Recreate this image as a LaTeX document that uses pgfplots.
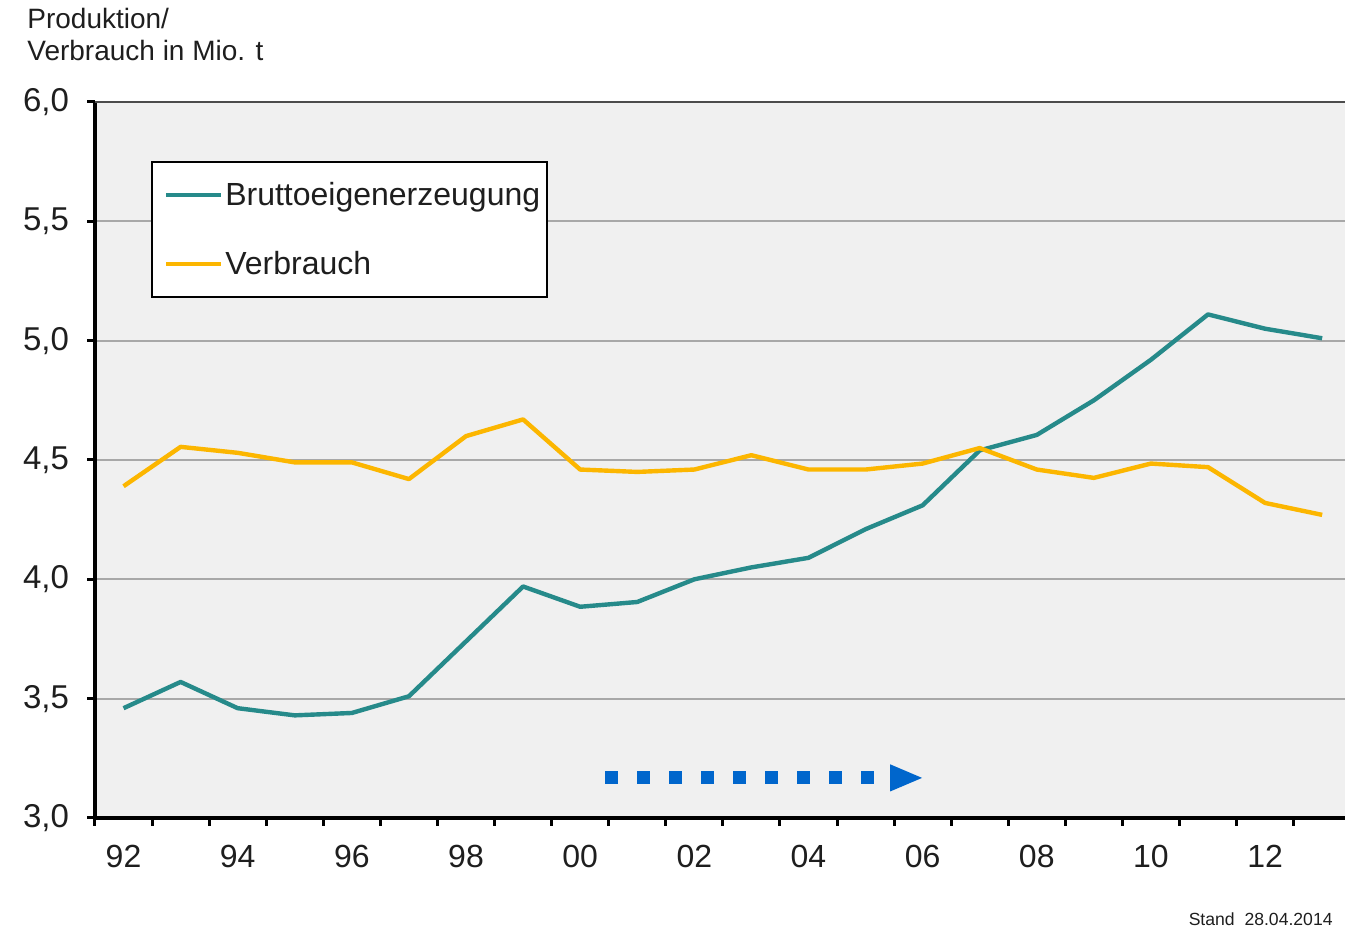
\documentclass[border=0pt]{standalone}
\usepackage{pgfplots}
\pgfplotsset{compat=1.18}
\usepackage{pgfplotstable}
\usepackage{fontspec}
\setmainfont{Liberation Sans}

\definecolor{teal1}{RGB}{38,138,138}
\definecolor{orng}{RGB}{252,182,0}
\definecolor{bg}{RGB}{240,240,240}
\definecolor{gridc}{RGB}{168,168,168}
\definecolor{arrowblue}{RGB}{0,102,204}
\definecolor{txt}{RGB}{30,30,30}

\pgfplotstableread{
year brutto verbrauch
1992 3.46 4.39
1993 3.57 4.555
1994 3.46 4.53
1995 3.43 4.49
1996 3.44 4.49
1997 3.51 4.42
1998 3.74 4.60
1999 3.97 4.67
2000 3.885 4.46
2001 3.905 4.45
2002 4.00 4.46
2003 4.05 4.52
2004 4.09 4.46
2005 4.21 4.46
2006 4.31 4.485
2007 4.54 4.55
2008 4.605 4.46
2009 4.75 4.425
2010 4.92 4.485
2011 5.11 4.47
2012 5.05 4.32
2013 5.01 4.27
}\datatable

\begin{document}
\begin{tikzpicture}
\begin{axis}[
  scale only axis,
  width=625pt, height=358pt,
  xmin=1991.5, xmax=2013.4,
  ymin=3, ymax=6,
  axis x line*=bottom, axis y line*=left,
  axis line style={line width=1.6pt, black, -},
  axis background/.style={fill=bg},
  tick align=outside,
  major tick length=4pt,
  tick style={line width=1.5pt, black},
  xtick={1991.5,1992.5,1993.5,1994.5,1995.5,1996.5,1997.5,1998.5,1999.5,2000.5,2001.5,2002.5,2003.5,2004.5,2005.5,2006.5,2007.5,2008.5,2009.5,2010.5,2011.5,2012.5},
  xticklabels={},
  extra x ticks={1992,1994,1996,1998,2000,2002,2004,2006,2008,2010,2012},
  extra x tick labels={92,94,96,98,00,02,04,06,08,10,12},
  extra x tick style={major tick length=0pt, tick style={draw=none}},
  xticklabel style={font=\fontsize{16}{18}\selectfont, text=txt, yshift=-10pt},
  ytick={3,3.5,4,4.5,5,5.5,6},
  yticklabel style={font=\fontsize{16.5}{18}\selectfont, text=txt, xshift=-5.5pt,
    /pgf/number format/.cd, fixed, fixed zerofill, precision=1, use comma, assume math mode=true},
  ymajorgrids,
  major grid style={gridc, line width=0.9pt},
  clip=false,
  legend style={at={(axis description cs:0.0448,0.9176)}, anchor=north west,
    draw=black, line width=0.9pt, fill=white,
    font=\fontsize{16}{18}\selectfont, text=txt,
    row sep=17.5pt, inner xsep=2.5pt, inner ysep=8pt,
    nodes={inner xsep=1pt}},
  legend cell align=left,
  legend image code/.code={\path (-3.5pt,0pt); \draw[#1] (0pt,0pt) -- (27.5pt,0pt);},
]
\draw[black!70, line width=1pt] (axis cs:1991.5,6) -- (axis cs:2013.4,6);
\addplot[teal1, line width=2.2pt, line join=round] table[x=year, y=brutto] {\datatable};
\addlegendentry{Bruttoeigenerzeugung}
\addplot[orng, line width=2.2pt, line join=round] table[x=year, y=verbrauch] {\datatable};
\addlegendentry{Verbrauch}
\draw[arrowblue, line width=6.5pt, dash pattern=on 6.5pt off 9.5pt] (axis cs:2000.44,3.168) -- (axis cs:2005.26,3.168);
\fill[arrowblue] (axis cs:2005.43,3.225) -- (axis cs:2005.99,3.168) -- (axis cs:2005.43,3.111) -- cycle;
\end{axis}
\node[anchor=north west, align=left, inner sep=0pt, text=txt, font=\fontsize{14}{16}\selectfont] at (-34pt,405pt) {Produktion/\\Verbrauch in Mio. t};
\node[anchor=base east, inner sep=0pt, text=txt, font=\fontsize{8.8}{10}\selectfont] at (619pt,-54pt) {Stand\ \ 28.04.2014};
\pgfresetboundingbox
\path[use as bounding box] (-47.5pt,-56pt) rectangle (625pt,409pt);
\end{tikzpicture}
\end{document}
